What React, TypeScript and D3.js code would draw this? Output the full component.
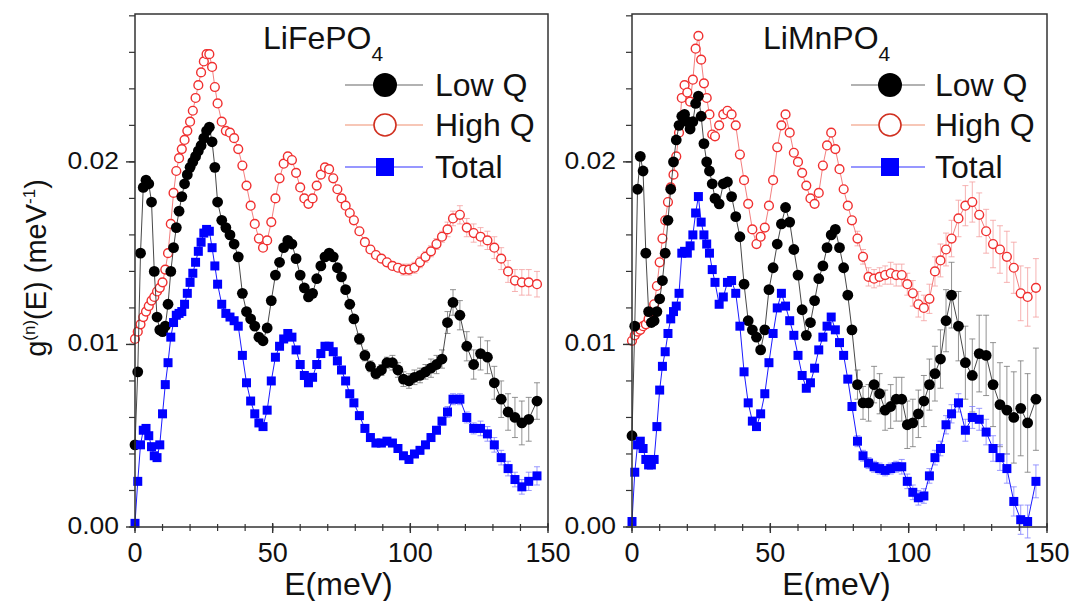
import React from "react";
import * as d3 from "d3";

// energy grid (meV) shared by all series
const energy = [
  0, 1, 2, 3, 4, 5, 6, 7, 8, 9, 10, 11, 12, 13, 14, 15, 16, 17, 18, 19, 20, 21, 22, 23, 24, 25, 26, 27, 28, 29, 30,
  31.5, 33, 34.5, 36, 37.5, 39, 40.5, 42, 43.5, 45, 46.5, 48, 49.5, 51, 52.5, 54, 55.5, 57, 58.5, 60, 61.5, 63,
  64.5, 66, 67.5, 69, 70.5, 72, 73.5, 75, 76.5, 78, 79.5,
  81.5, 83.5, 85.5, 87.5, 89.5, 91.5, 93.5, 95.5, 97.5, 99.5, 101.5, 103.5, 105.5, 107.5, 109.5, 111.5,
  113.5, 115.5, 118, 120.5, 123, 125.5, 128, 130.5, 133, 135.5, 138, 140.5, 143, 146,
];

// LiFePO4
const feLowQ = [
  0.0045, 0.0085, 0.015, 0.0186, 0.019, 0.0188, 0.0178, 0.014, 0.0115, 0.0108, 0.0107, 0.011, 0.0122, 0.014, 0.0153,
  0.0164, 0.0173, 0.0181, 0.0188, 0.0193, 0.0197, 0.02, 0.0203, 0.0206, 0.0209, 0.0213, 0.0217, 0.0219, 0.0211, 0.0197, 0.0178,
  0.0168, 0.0164, 0.016, 0.0155, 0.0148, 0.0128, 0.0118, 0.0114, 0.011, 0.0104, 0.0102, 0.0109, 0.0124, 0.0138, 0.0145,
  0.0153, 0.0157, 0.0155, 0.0147, 0.0138, 0.0131, 0.0126, 0.0128, 0.0136, 0.0143, 0.0148, 0.015, 0.0148, 0.0142, 0.0137,
  0.013, 0.0122, 0.0114,
  0.0103, 0.0094, 0.0088, 0.0084, 0.0086, 0.009, 0.009, 0.0086, 0.0081, 0.008, 0.0082, 0.0083, 0.0085, 0.0087, 0.0089, 0.0092,
  0.0112, 0.0123, 0.0116, 0.0099, 0.0089, 0.0095, 0.0093, 0.0079, 0.007, 0.0063, 0.006, 0.0057, 0.0059, 0.0069,
];
const feHighQ = [
  0.0103, 0.0107, 0.0111, 0.0115, 0.0118, 0.0121, 0.0124, 0.0126, 0.0129, 0.0131, 0.0134, 0.0141, 0.015, 0.0166, 0.0183,
  0.0195, 0.0202, 0.0207, 0.0212, 0.0217, 0.0222, 0.0228, 0.0235, 0.0242, 0.0249, 0.0255, 0.0259, 0.0259, 0.0252, 0.0241, 0.0232,
  0.0222, 0.0217, 0.0216, 0.0213, 0.0207, 0.0198, 0.0187, 0.0176, 0.0166, 0.0158, 0.0153, 0.0157, 0.0167, 0.018, 0.0191,
  0.0199, 0.0203, 0.0201, 0.0194, 0.0186, 0.018, 0.0177, 0.018, 0.0187, 0.0193, 0.0197, 0.0196, 0.0191, 0.0185, 0.018,
  0.0176, 0.0172, 0.0168,
  0.0162, 0.0156, 0.0152, 0.0149, 0.0147, 0.0145, 0.0143, 0.0142, 0.0141, 0.0141, 0.0142, 0.0145, 0.0148, 0.0151, 0.0155, 0.0159,
  0.0163, 0.0169, 0.0171, 0.0164, 0.0161, 0.0159, 0.0157, 0.0153, 0.0147, 0.014, 0.0135, 0.0134, 0.0134, 0.0133,
];
const feTotal = [
  0.0002, 0.0025, 0.0045, 0.0053, 0.0054, 0.005, 0.0044, 0.0039, 0.0038, 0.0045, 0.0062, 0.0078, 0.009, 0.0104, 0.0112,
  0.0116, 0.0117, 0.0118, 0.0122, 0.0128, 0.0134, 0.0139, 0.0145, 0.0151, 0.0156, 0.0161, 0.0163, 0.0162, 0.0153, 0.0143, 0.0133,
  0.0122, 0.0117, 0.0115, 0.0113, 0.011, 0.0094, 0.0079, 0.0069, 0.0062, 0.0057, 0.0055, 0.0064, 0.008, 0.0093, 0.0099,
  0.0103, 0.0106, 0.0104, 0.0097, 0.0089, 0.0083, 0.0079, 0.0082, 0.0089, 0.0095, 0.0099, 0.0099, 0.0096, 0.0091, 0.0086,
  0.008, 0.0073, 0.0068,
  0.0061, 0.0054, 0.0049, 0.0046, 0.0046, 0.0047, 0.0046, 0.0043, 0.0039, 0.0037, 0.004, 0.0042, 0.0045, 0.0049, 0.0053, 0.0058,
  0.0063, 0.007, 0.007, 0.006, 0.0054, 0.0054, 0.0051, 0.0045, 0.0038, 0.0032, 0.0026, 0.0022, 0.0025, 0.0028,
];

// LiMnPO4
const mnLowQ = [
  0.005, 0.011, 0.0185, 0.0203, 0.0195, 0.015, 0.0118, 0.0112, 0.0113, 0.0118, 0.0125, 0.0135, 0.015, 0.0168, 0.0185,
  0.02, 0.0212, 0.022, 0.0225, 0.0226, 0.0222, 0.0218, 0.0222, 0.0232, 0.0236, 0.0225, 0.021, 0.02, 0.0195, 0.0188, 0.018,
  0.0177, 0.0188, 0.0189, 0.0181, 0.017, 0.0159, 0.0133, 0.0113, 0.0108, 0.0104, 0.0097, 0.0108, 0.013, 0.0142, 0.0155,
  0.0166, 0.0175, 0.0167, 0.0152, 0.0138, 0.0119, 0.0105, 0.0112, 0.0124, 0.0136, 0.0143, 0.0153, 0.016, 0.0163, 0.0153,
  0.0142, 0.0127, 0.0108,
  0.0078, 0.0068, 0.0068, 0.0078, 0.0073, 0.0064, 0.0066, 0.007, 0.007, 0.0056, 0.0057, 0.0062, 0.0069, 0.0078, 0.0084, 0.0092,
  0.0113, 0.0127, 0.011, 0.009, 0.0083, 0.0095, 0.0094, 0.0078, 0.0067, 0.0064, 0.006, 0.0065, 0.0057, 0.007,
];
const mnHighQ = [
  0.0102, 0.0105, 0.0107, 0.0108, 0.011, 0.0111, 0.0114, 0.0118, 0.0122, 0.0132, 0.0145, 0.0158, 0.0168, 0.0178, 0.0186,
  0.0193, 0.0203, 0.0216, 0.0235, 0.0242, 0.0238, 0.0233, 0.0245, 0.0262, 0.0269, 0.0256, 0.0243, 0.0235, 0.0226, 0.0215, 0.0214,
  0.022, 0.0226, 0.0228, 0.0226, 0.022, 0.0204, 0.019, 0.0177, 0.0163, 0.0155, 0.0159, 0.0164, 0.0176, 0.019, 0.0208,
  0.022, 0.0226, 0.0216, 0.0205, 0.02, 0.0194, 0.0187, 0.018, 0.0177, 0.0183, 0.0198, 0.0209, 0.0216, 0.0207, 0.0196,
  0.0185, 0.0176, 0.0168,
  0.0158, 0.0148, 0.0137, 0.0136, 0.0137, 0.0138, 0.0139, 0.0138, 0.0138, 0.0133, 0.0128, 0.0122, 0.012, 0.0125, 0.014, 0.0146,
  0.0152, 0.0158, 0.0169, 0.0176, 0.0178, 0.0171, 0.0162, 0.0155, 0.0152, 0.0148, 0.0142, 0.0128, 0.0126, 0.0131,
];
const mnTotal = [
  0.0003, 0.003, 0.0045, 0.0047, 0.0043, 0.0037, 0.0034, 0.0034, 0.0037, 0.0055, 0.0075, 0.0088, 0.0096, 0.0106, 0.0114,
  0.0118, 0.0121, 0.0128, 0.015, 0.0151, 0.015, 0.0154, 0.016, 0.0172, 0.0181, 0.0167, 0.016, 0.0155, 0.015, 0.0141, 0.0134,
  0.0122, 0.0126, 0.0134, 0.0135, 0.0128, 0.011, 0.0085, 0.0068, 0.0058, 0.0055, 0.0062, 0.0073, 0.009, 0.0106, 0.012,
  0.0128, 0.0121, 0.0113, 0.0105, 0.0094, 0.0083, 0.0076, 0.0079, 0.0087, 0.0097, 0.0104, 0.011, 0.0115, 0.0108, 0.0101,
  0.0094, 0.0081, 0.0066,
  0.0047, 0.0039, 0.0035, 0.0033, 0.0032, 0.0031, 0.0032, 0.0033, 0.0033, 0.0025, 0.0019, 0.0016, 0.0017, 0.0028, 0.0038, 0.0043,
  0.0056, 0.0062, 0.0068, 0.0053, 0.006, 0.0059, 0.0052, 0.0043, 0.0038, 0.0032, 0.0014, 0.0004, 0.0003, 0.0025,
];

// error bars for the last points of each series (from 81.5 meV on)
const feLowQErr = [
  0.0003, 0.0003, 0.0003, 0.0003, 0.0003, 0.0003, 0.0004, 0.0004, 0.0004, 0.0004, 0.0004, 0.0004, 0.0004, 0.0005, 0.0005, 0.0005,
  0.0006, 0.0007, 0.0008, 0.0008, 0.0008, 0.0009, 0.0009, 0.0009, 0.001, 0.001, 0.0011, 0.0012, 0.0012, 0.001,
];
const feHighQErr = [
  0.0002, 0.0002, 0.0002, 0.0002, 0.0002, 0.0002, 0.0002, 0.0002, 0.0003, 0.0003, 0.0003, 0.0003, 0.0003, 0.0003, 0.0003, 0.0003,
  0.0004, 0.0004, 0.0005, 0.0005, 0.0005, 0.0005, 0.0005, 0.0006, 0.0006, 0.0006, 0.0006, 0.0007, 0.0007, 0.0007,
];
const feTotalErr = [
  0.0002, 0.0002, 0.0002, 0.0002, 0.0002, 0.0002, 0.0002, 0.0002, 0.0002, 0.0002, 0.0002, 0.0002, 0.0002, 0.0002, 0.0002, 0.0002,
  0.0003, 0.0003, 0.0003, 0.0003, 0.0003, 0.0004, 0.0004, 0.0004, 0.0004, 0.0004, 0.0004, 0.0004, 0.0005, 0.0005,
];
const mnLowQErr = [
  0.0008, 0.0009, 0.001, 0.001, 0.0011, 0.0011, 0.0012, 0.0012, 0.0012, 0.0013, 0.0013, 0.0013, 0.0014, 0.0014, 0.0015, 0.0016,
  0.0017, 0.0018, 0.0019, 0.002, 0.002, 0.0021, 0.0022, 0.0023, 0.0023, 0.0024, 0.0025, 0.0026, 0.0027, 0.0028,
];
const mnHighQErr = [
  0.0004, 0.0004, 0.0005, 0.0005, 0.0005, 0.0005, 0.0006, 0.0006, 0.0006, 0.0006, 0.0007, 0.0007, 0.0007, 0.0008, 0.0008, 0.0009,
  0.0009, 0.001, 0.001, 0.0011, 0.0011, 0.0012, 0.0012, 0.0013, 0.0013, 0.0014, 0.0014, 0.0015, 0.0016, 0.0016,
];
const mnTotalErr = [
  0.0003, 0.0003, 0.0003, 0.0003, 0.0003, 0.0003, 0.0003, 0.0003, 0.0004, 0.0004, 0.0004, 0.0004, 0.0004, 0.0004, 0.0004, 0.0004,
  0.0005, 0.0005, 0.0005, 0.0006, 0.0006, 0.0006, 0.0007, 0.0007, 0.0007, 0.0008, 0.0008, 0.0008, 0.0009, 0.0009,
];

const xTicks = [0, 50, 100, 150];
const yTicks = [0, 0.01, 0.02];
const yTickLabels = ["0.00", "0.01", "0.02"];
const legendNames = ["Low Q", "High Q", "Total"];

const FONT = "'Liberation Sans', Arial, Helvetica, sans-serif";
const TOP = 14;
const BOTTOM = 527;
const G_MAX = 0.0281;

function ErrorBars({ x, y, values, errs, color }) {
  const start = energy.length - errs.length;
  return (
    <g stroke={color} strokeWidth={0.8} fill="none">
      {errs.map((e, k) => {
        const i = start + k;
        const cx = x(energy[i]);
        const y1 = y(values[i] - e);
        const y2 = y(values[i] + e);
        return (
          <g key={k}>
            <line x1={cx} x2={cx} y1={y1} y2={y2} />
            <line x1={cx - 3} x2={cx + 3} y1={y1} y2={y1} />
            <line x1={cx - 3} x2={cx + 3} y1={y2} y2={y2} />
          </g>
        );
      })}
    </g>
  );
}

function Panel({ left, right, title, sub, titleX, lowQ, highQ, total, lowErr, highErr, totalErr, legendX, textX, lineL, lineR }) {
  const x = d3.scaleLinear().domain([0, 150]).range([left, right]);
  const y = d3.scaleLinear().domain([0, G_MAX]).range([BOTTOM, TOP]);
  const line = d3
    .line<number>()
    .x((_, i) => x(energy[i]))
    .y((d) => y(d));

  const xMinor = d3.range(0, 151, 10);
  const yMinor = d3.range(0, 0.0281, 0.002);
  const legendY = [85, 125, 167];

  return (
    <g>
      {/* High Q */}
      <ErrorBars x={x} y={y} values={highQ} errs={highErr} color="#f4a0a0" />
      <path d={line(highQ)} fill="none" stroke="#f07070" strokeWidth={0.9} />
      {highQ.map((v, i) => (
        <circle key={"h" + i} cx={x(energy[i])} cy={y(v)} r={4.4} fill="white" stroke="#f03030" strokeWidth={1.4} />
      ))}

      {/* Low Q */}
      <ErrorBars x={x} y={y} values={lowQ} errs={lowErr} color="#777" />
      <path d={line(lowQ)} fill="none" stroke="#333" strokeWidth={0.9} />
      {lowQ.map((v, i) => (
        <circle key={"l" + i} cx={x(energy[i])} cy={y(v)} r={5.4} fill="black" />
      ))}

      {/* Total */}
      <ErrorBars x={x} y={y} values={total} errs={totalErr} color="#8080ff" />
      <path d={line(total)} fill="none" stroke="#0000ff" strokeWidth={0.9} />
      {total.map((v, i) => (
        <rect key={"t" + i} x={x(energy[i]) - 4.5} y={y(v) - 4.5} width={9} height={9} fill="#0000ff" />
      ))}

      {/* frame */}
      <rect x={left} y={TOP} width={right - left} height={BOTTOM - TOP} fill="none" stroke="#333" strokeWidth={1.5} />

      {/* x ticks */}
      {xMinor.map((t) => (
        <line key={"xm" + t} x1={x(t)} x2={x(t)} y1={BOTTOM - 3} y2={BOTTOM + 4} stroke="#333" strokeWidth={1.2} />
      ))}
      {xTicks.map((t) => (
        <g key={"xt" + t}>
          <line x1={x(t)} x2={x(t)} y1={BOTTOM - 4} y2={BOTTOM + 6} stroke="#333" strokeWidth={1.4} />
          <text x={x(t)} y={562} textAnchor="middle" fontSize={27} fontFamily={FONT} fill="#111">
            {t}
          </text>
        </g>
      ))}

      {/* y ticks */}
      {yMinor.map((t, k) => (
        <line key={"ym" + k} x1={left - 6} x2={left} y1={y(t)} y2={y(t)} stroke="#333" strokeWidth={1.2} />
      ))}
      {yTicks.map((t, k) => (
        <g key={"yt" + k}>
          <line x1={left - 9} x2={left} y1={y(t)} y2={y(t)} stroke="#333" strokeWidth={1.4} />
          <text
            transform={`translate(${left - 16},${y(t) + 7}) scale(1.15,1)`}
            textAnchor="end"
            fontSize={23}
            fontFamily={FONT}
            fill="#111"
          >
            {yTickLabels[k]}
          </text>
        </g>
      ))}

      {/* axis title */}
      <text x={(left + right) / 2 - 3} y={595} textAnchor="middle" fontSize={32} fontFamily={FONT} fill="#111">
        E(meV)
      </text>

      {/* panel title */}
      <text x={titleX} y={49} fontSize={32} fontFamily={FONT} fill="#111">
        {title}
        <tspan dy={12} fontSize={21}>
          {sub}
        </tspan>
      </text>

      {/* legend */}
      <g>
        <line x1={lineL} x2={lineR} y1={legendY[0]} y2={legendY[0]} stroke="#666" strokeWidth={1.2} />
        <circle cx={legendX} cy={legendY[0]} r={12} fill="black" />
        <line x1={lineL} x2={lineR} y1={legendY[1]} y2={legendY[1]} stroke="#f09070" strokeWidth={1.2} />
        <circle cx={legendX} cy={legendY[1]} r={11} fill="white" stroke="#d03020" strokeWidth={1.6} />
        <line x1={lineL} x2={lineR} y1={legendY[2]} y2={legendY[2]} stroke="#3030ff" strokeWidth={1.2} />
        <rect x={legendX - 9} y={legendY[2] - 9} width={18} height={18} fill="#0000ff" />
        {legendNames.map((n, k) => (
          <text key={n} x={textX} y={legendY[k] + 11} fontSize={32} fontFamily={FONT} fill="#111">
            {n}
          </text>
        ))}
      </g>
    </g>
  );
}

export default function App() {
  return (
    <svg width={1073} height={601} style={{ position: "absolute", left: 0, top: 0, background: "white" }}>
      <rect width={1073} height={601} fill="white" />
      <Panel
        left={135}
        right={548}
        title="LiFePO"
        sub="4"
        titleX={263}
        lowQ={feLowQ}
        highQ={feHighQ}
        total={feTotal}
        lowErr={feLowQErr}
        highErr={feHighQErr}
        totalErr={feTotalErr}
        legendX={385}
        textX={435}
        lineL={345}
        lineR={423}
      />
      <Panel
        left={632}
        right={1047}
        title="LiMnPO"
        sub="4"
        titleX={763}
        lowQ={mnLowQ}
        highQ={mnHighQ}
        total={mnTotal}
        lowErr={mnLowQErr}
        highErr={mnHighQErr}
        totalErr={mnTotalErr}
        legendX={890}
        textX={935}
        lineL={851}
        lineR={925}
      />
      <text transform="translate(46,268) rotate(-90)" textAnchor="middle" fontSize={29} fontFamily={FONT} fill="#111">
        g
        <tspan dy={-11} fontSize={17}>
          (n)
        </tspan>
        <tspan dy={11}>(E) (meV</tspan>
        <tspan dy={-11} fontSize={17}>
          -1
        </tspan>
        <tspan dy={11}>)</tspan>
      </text>
    </svg>
  );
}
